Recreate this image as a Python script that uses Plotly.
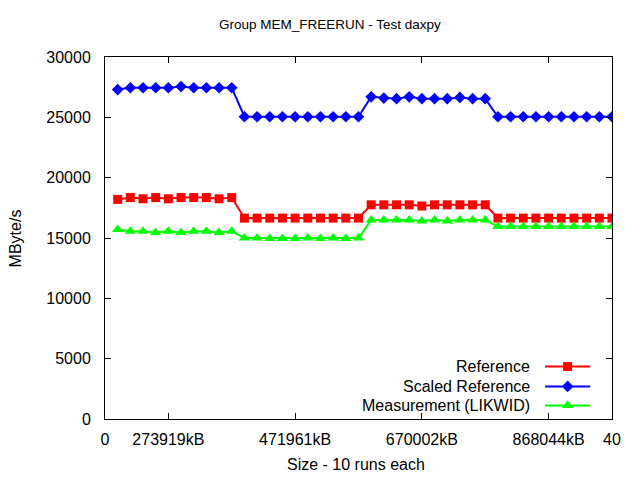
import plotly.graph_objects as go

# ---- data ----
run_index = list(range(1, 41))
tick_positions = [0, 5, 15, 25, 35, 40]
tick_labels = ["0", "273919kB", "471961kB", "670002kB", "868044kB", "40"]
y_ticks = [0, 5000, 10000, 15000, 20000, 25000, 30000]
y_tick_labels = ["0", "5000", "10000", "15000", "20000", "25000", "30000"]

reference = [18200, 18350, 18250, 18350, 18250, 18350, 18350, 18350, 18250, 18350,
             16650, 16650, 16650, 16650, 16650, 16650, 16650, 16650, 16650, 16650,
             17750, 17750, 17750, 17750, 17650, 17750, 17750, 17750, 17750, 17750,
             16650, 16650, 16650, 16650, 16650, 16650, 16650, 16650, 16650, 16650]
scaled_reference = [27300, 27450, 27450, 27450, 27450, 27550, 27450, 27450, 27450, 27450,
                    25050, 25050, 25050, 25050, 25050, 25050, 25050, 25050, 25050, 25050,
                    26700, 26600, 26550, 26700, 26550, 26550, 26550, 26650, 26550, 26550,
                    25050, 25050, 25050, 25050, 25050, 25050, 25050, 25050, 25050, 25050]
measurement = [15700, 15550, 15550, 15450, 15550, 15450, 15550, 15550, 15450, 15550,
               15000, 15000, 14950, 14950, 14950, 15000, 14950, 15000, 14950, 15000,
               16500, 16500, 16500, 16500, 16400, 16500, 16400, 16500, 16500, 16500,
               15950, 15950, 15950, 15950, 15950, 15950, 15950, 15950, 15950, 15950]

series_names = ["Reference", "Scaled Reference", "Measurement (LIKWID)"]
series_values = [reference, scaled_reference, measurement]
colors = ["#ff0000", "#0000ff", "#00ff00"]
symbols = ["square", "diamond", "triangle-up"]
marker_sizes = [9, 9, 10]

FONT = "Liberation Sans, Arial, sans-serif"

fig = go.Figure()
for name, vals, c, s, ms in zip(series_names, series_values, colors, symbols, marker_sizes):
    fig.add_trace(go.Scatter(x=run_index, y=vals, name=name, mode="lines+markers",
                             line=dict(color=c, width=2),
                             marker=dict(symbol=s, size=ms, color=c),
                             showlegend=False))

# gnuplot-style key (sample on the right of the text), drawn on an overlay axis
key_rows = [0.145, 0.090, 0.037]
for name, c, s, ms, ry in zip(series_names, colors, symbols, marker_sizes, key_rows):
    fig.add_trace(go.Scatter(x=[0.868, 0.957], y=[ry, ry], xaxis="x2", yaxis="y2",
                             mode="lines", line=dict(color=c, width=2),
                             showlegend=False, hoverinfo="skip"))
    fig.add_trace(go.Scatter(x=[0.9125], y=[ry], xaxis="x2", yaxis="y2",
                             mode="markers", marker=dict(symbol=s, size=ms, color=c),
                             showlegend=False, hoverinfo="skip"))
    fig.add_annotation(x=0.843, y=ry, xref="paper", yref="paper", text=name,
                       showarrow=False, xanchor="right", yanchor="middle",
                       font=dict(family=FONT, size=16, color="#000000"))

# axis titles
fig.add_annotation(x=-0.1767, y=0.5, xref="paper", yref="paper", text="MByte/s",
                   textangle=-90, showarrow=False, xanchor="center", yanchor="middle",
                   font=dict(family=FONT, size=16, color="#000000"))
fig.add_annotation(x=0.495, y=-0.127, xref="paper", yref="paper", text="Size - 10 runs each",
                   showarrow=False, xanchor="center", yanchor="middle",
                   font=dict(family=FONT, size=16, color="#000000"))

axis_common = dict(showline=True, linecolor="#000000", linewidth=1, mirror="allticks",
                   ticks="inside", ticklen=6, tickcolor="#000000", showgrid=False,
                   zeroline=False, tickfont=dict(family=FONT, size=16, color="#000000"))

fig.update_layout(
    width=640, height=480,
    paper_bgcolor="#ffffff", plot_bgcolor="#ffffff",
    margin=dict(l=97, r=36, t=49, b=69),
    title=dict(text="Group MEM_FREERUN - Test daxpy", x=0.503, xref="container",
               xanchor="center", y=0.967, yref="container", yanchor="middle",
               font=dict(family=FONT, size=13.5, color="#000000")),
    xaxis=dict(range=[0, 40], tickvals=tick_positions, ticktext=tick_labels,
               ticklabelstandoff=6, **axis_common),
    yaxis=dict(range=[0, 30000], tickvals=y_ticks, ticktext=y_tick_labels,
               ticklabelstandoff=10, **axis_common),
    xaxis2=dict(range=[0, 1], overlaying="x", visible=False, fixedrange=True),
    yaxis2=dict(range=[0, 1], overlaying="y", visible=False, fixedrange=True),
    showlegend=False,
)

fig.write_html("out.html")
